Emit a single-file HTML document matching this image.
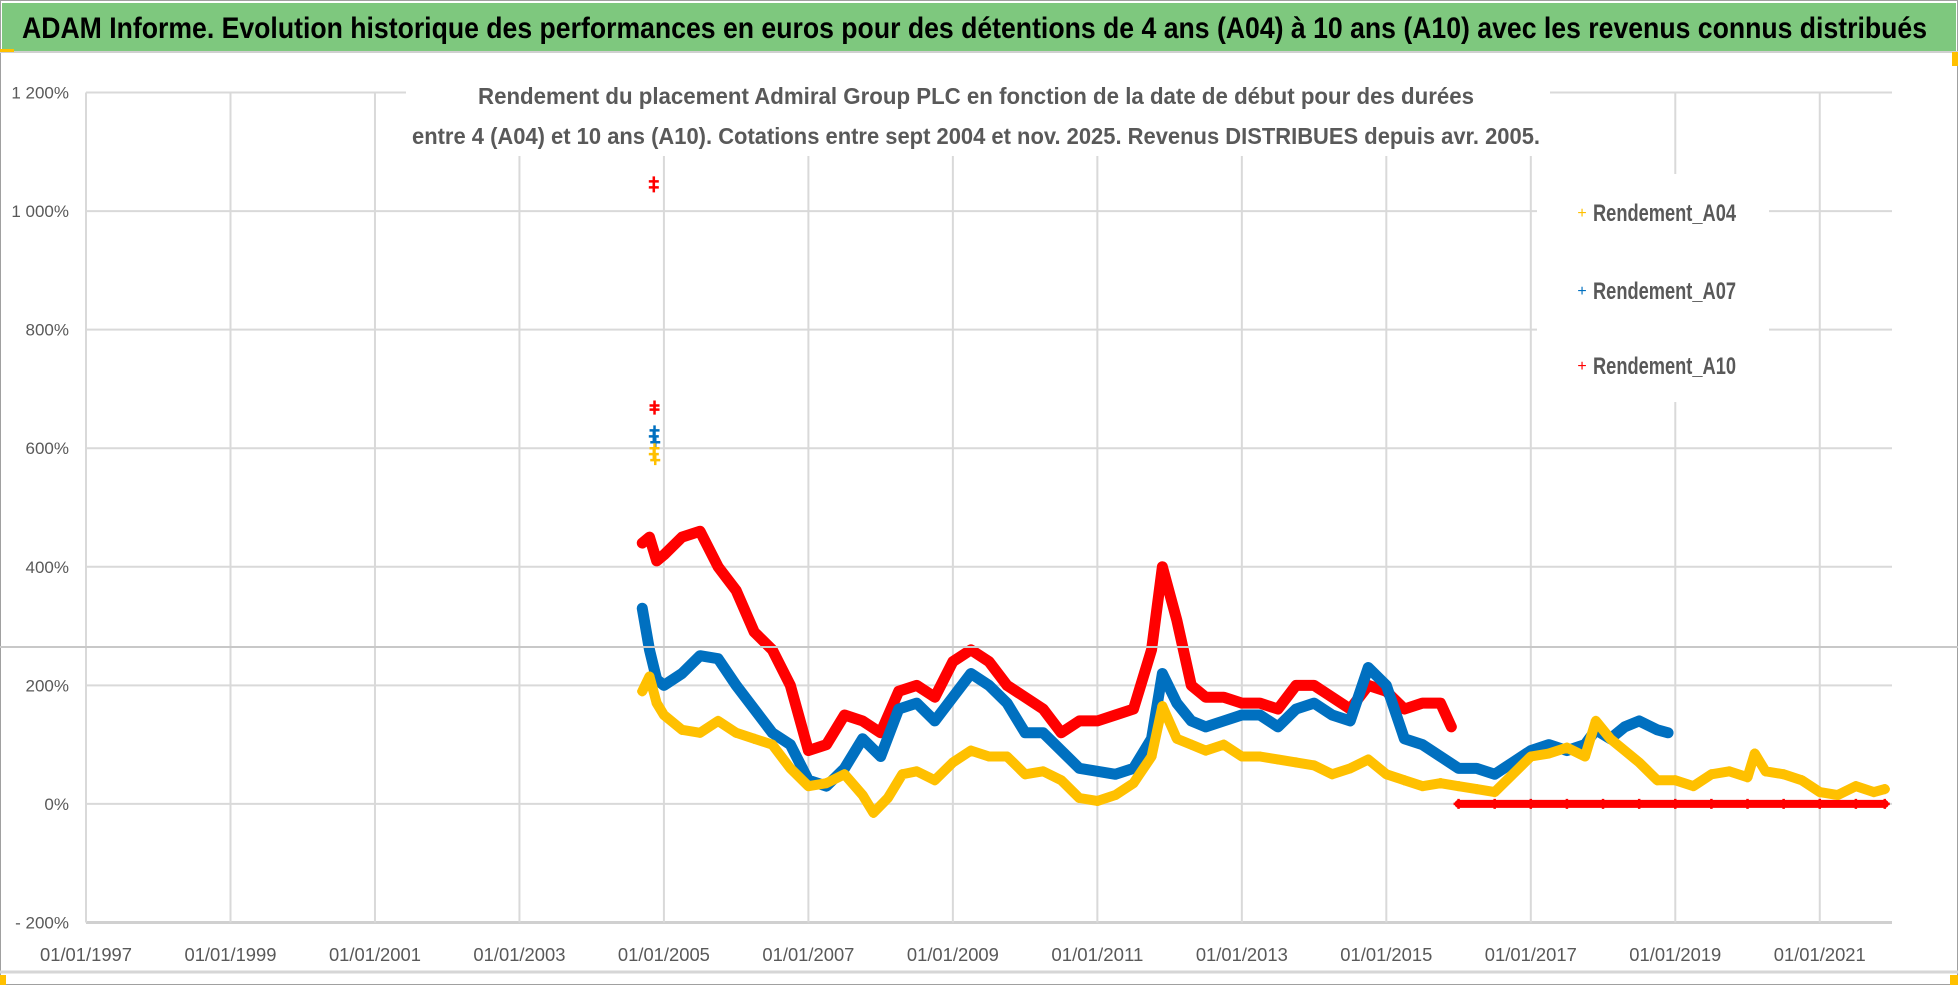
<!DOCTYPE html>
<html><head><meta charset="utf-8"><style>
html,body{margin:0;padding:0;background:#fff;}
svg{display:block;font-family:"Liberation Sans",sans-serif;}
</style></head><body>
<svg id="chart" width="1958" height="985" viewBox="0 0 1958 985" xmlns="http://www.w3.org/2000/svg">
<rect x="0.5" y="0.5" width="1957" height="984" fill="#fff" stroke="#a0a0a0"/>
<rect x="2" y="3" width="1954" height="48" fill="#7ec87e"/>
<line x1="0" y1="52" x2="1958" y2="52" stroke="#d0d0d0" stroke-width="2"/>
<text x="22" y="38" font-size="30" font-weight="bold" fill="#000" textLength="1905" lengthAdjust="spacingAndGlyphs">ADAM Informe. Evolution historique des performances en euros pour des détentions de 4 ans (A04) à 10 ans (A10) avec les revenus connus distribués</text>
<g id="grid"></g>
<rect x="406" y="58" width="1144" height="98" fill="#fff"/>
<text x="976" y="104" font-size="23" font-weight="bold" fill="#595959" text-anchor="middle" textLength="996" lengthAdjust="spacingAndGlyphs">Rendement du placement Admiral Group PLC en fonction de la date de début pour des durées</text>
<text x="976" y="144" font-size="23" font-weight="bold" fill="#595959" text-anchor="middle" textLength="1128" lengthAdjust="spacingAndGlyphs">entre 4 (A04) et 10 ans (A10). Cotations entre sept 2004 et nov. 2025. Revenus DISTRIBUES depuis avr. 2005.</text>
<rect x="1537" y="174" width="232" height="228" fill="#fff"/>
<g>
<g><text x="1582" y="218" font-size="16" fill="#ffc000" text-anchor="middle">+</text><text x="1593" y="221" font-size="24" font-weight="bold" fill="#595959" textLength="143" lengthAdjust="spacingAndGlyphs">Rendement_A04</text></g>
<g><text x="1582" y="296" font-size="16" fill="#0070c0" text-anchor="middle">+</text><text x="1593" y="299" font-size="24" font-weight="bold" fill="#595959" textLength="143" lengthAdjust="spacingAndGlyphs">Rendement_A07</text></g>
<g><text x="1582" y="371" font-size="16" fill="#ff0000" text-anchor="middle">+</text><text x="1593" y="374" font-size="24" font-weight="bold" fill="#595959" textLength="143" lengthAdjust="spacingAndGlyphs">Rendement_A10</text></g>
</g>
<g id="series"></g>
<line x1="0" y1="647" x2="1958" y2="647" stroke="#c8c8c8" stroke-width="2"/>
<line x1="0" y1="972" x2="1958" y2="972" stroke="#d6d6d6" stroke-width="3"/>
<rect x="0" y="975" width="6" height="10" fill="#ffc000"/>
<rect x="1950" y="975" width="8" height="10" fill="#ffc000"/>
<rect x="1952" y="52" width="6" height="14" fill="#ffc000"/>
<rect x="0" y="49" width="14" height="3" fill="#ffc000"/>
</svg>
<script>
const yTicks = [1200,1000,800,600,400,200,0,-200];
const yTickLabels = ["1 200%","1 000%","800%","600%","400%","200%","0%","- 200%"];
const xTicks = [1997,1999,2001,2003,2005,2007,2009,2011,2013,2015,2017,2019,2021];
const xTickLabels = ["01/01/1997","01/01/1999","01/01/2001","01/01/2003","01/01/2005","01/01/2007","01/01/2009","01/01/2011","01/01/2013","01/01/2015","01/01/2017","01/01/2019","01/01/2021"];

const a04Dates = [2004.7,2004.8,2004.9,2005.0,2005.25,2005.5,2005.75,2006.0,2006.25,2006.5,2006.75,2007.0,2007.25,2007.5,2007.75,2007.9,2008.1,2008.3,2008.5,2008.75,2009.0,2009.25,2009.5,2009.75,2010.0,2010.25,2010.5,2010.75,2011.0,2011.25,2011.5,2011.75,2011.9,2012.1,2012.3,2012.5,2012.75,2013.0,2013.25,2013.5,2013.75,2014.0,2014.25,2014.5,2014.75,2015.0,2015.25,2015.5,2015.75,2016.0,2016.25,2016.5,2016.75,2017.0,2017.25,2017.5,2017.75,2017.9,2018.1,2018.3,2018.5,2018.75,2019.0,2019.25,2019.5,2019.75,2020.0,2020.1,2020.25,2020.5,2020.75,2021.0,2021.25,2021.5,2021.75,2021.9];
const a04Values = [190,215,170,150,125,120,140,120,110,100,60,30,35,50,15,-15,10,50,55,40,70,90,80,80,50,55,40,10,5,15,35,80,165,110,100,90,100,80,80,75,70,65,50,60,75,50,40,30,35,30,25,20,50,80,85,95,80,140,110,90,70,40,40,30,50,55,45,85,55,50,40,20,15,30,20,25];
const a04SpikeDates = [2004.86,2004.87,2004.88];
const a04SpikeValues = [590,600,580];

const a07Dates = [2004.7,2004.8,2004.9,2005.0,2005.25,2005.5,2005.75,2006.0,2006.25,2006.5,2006.75,2007.0,2007.25,2007.5,2007.75,2008.0,2008.25,2008.5,2008.75,2009.0,2009.25,2009.5,2009.75,2010.0,2010.25,2010.5,2010.75,2011.0,2011.25,2011.5,2011.75,2011.9,2012.1,2012.3,2012.5,2012.75,2013.0,2013.25,2013.5,2013.75,2014.0,2014.25,2014.5,2014.75,2015.0,2015.25,2015.5,2015.75,2016.0,2016.25,2016.5,2016.75,2017.0,2017.25,2017.5,2017.75,2017.9,2018.1,2018.3,2018.5,2018.75,2018.9];
const a07Values = [330,260,210,200,220,250,245,200,160,120,100,40,30,60,110,80,160,170,140,180,220,200,170,120,120,90,60,55,50,60,110,220,170,140,130,140,150,150,130,160,170,150,140,230,200,110,100,80,60,60,50,70,90,100,90,100,125,110,130,140,125,120];
const a07SpikeDates = [2004.86,2004.87,2004.88];
const a07SpikeValues = [620,630,610];

const a10Dates = [2004.7,2004.8,2004.9,2005.0,2005.25,2005.5,2005.75,2006.0,2006.25,2006.5,2006.75,2007.0,2007.25,2007.5,2007.75,2008.0,2008.25,2008.5,2008.75,2009.0,2009.25,2009.5,2009.75,2010.0,2010.25,2010.5,2010.75,2011.0,2011.25,2011.5,2011.75,2011.9,2012.1,2012.3,2012.5,2012.75,2013.0,2013.25,2013.5,2013.75,2014.0,2014.25,2014.5,2014.75,2015.0,2015.25,2015.5,2015.75,2015.9];
const a10Values = [440,450,410,420,450,460,400,360,290,260,200,90,100,150,140,120,190,200,180,240,260,240,200,180,160,120,140,140,150,160,260,400,310,200,180,180,170,170,160,200,200,180,160,200,190,160,170,170,130];
const a10SpikeDates = [2004.86,2004.86,2004.87,2004.87];
const a10SpikeValues = [1050,1040,672,665];
const a10ZeroDates = [2016.0,2016.5,2017.0,2017.5,2018.0,2018.5,2019.0,2019.5,2020.0,2020.5,2021.0,2021.5,2021.9];
const a10ZeroValues = [0,0,0,0,0,0,0,0,0,0,0,0,0];

const X0=86, X1=1892, YR0=1997, YR1=2022;
function xs(yr){ return X0 + (yr-YR0)*(X1-X0)/(YR1-YR0); }
const YT=92.5, YB=922.5, VMAX=1200, VMIN=-200;
function ys(v){ return YT + (VMAX-v)*(YB-YT)/(VMAX-VMIN); }
const NS="http://www.w3.org/2000/svg";
const grid=document.getElementById('grid');
const series=document.getElementById('series');
const svg=document.getElementById('chart');

yTicks.forEach((t,i)=>{
  const l=document.createElementNS(NS,'line');
  l.setAttribute('x1',X0);l.setAttribute('x2',X1);l.setAttribute('y1',ys(t));l.setAttribute('y2',ys(t));
  l.setAttribute('stroke', t===-200?'#d0d0d0':'#d9d9d9');l.setAttribute('stroke-width', t===-200?3:2);
  
  
  grid.appendChild(l);
  const tx=document.createElementNS(NS,'text');
  tx.setAttribute('x',69);tx.setAttribute('y',ys(t)+6);tx.setAttribute('text-anchor','end');
  tx.setAttribute('font-size','17');tx.setAttribute('fill','#595959');
  tx.textContent=yTickLabels[i];
  
  
  svg.appendChild(tx);
});
xTicks.forEach((t,i)=>{
  const l=document.createElementNS(NS,'line');
  l.setAttribute('x1',xs(t));l.setAttribute('x2',xs(t));l.setAttribute('y1',YT);l.setAttribute('y2',YB);
  l.setAttribute('stroke','#d9d9d9');l.setAttribute('stroke-width',2);
  
  
  grid.appendChild(l);
  const tx=document.createElementNS(NS,'text');
  tx.setAttribute('x',xs(t));tx.setAttribute('y',961);tx.setAttribute('text-anchor','middle');
  tx.setAttribute('font-size','18');tx.setAttribute('fill','#595959');
  tx.setAttribute('textLength','92');tx.setAttribute('lengthAdjust','spacingAndGlyphs');
  tx.textContent=xTickLabels[i];
  
  
  svg.appendChild(tx);
});

function addMarkers(g, dates, values, color, name){
  dates.forEach((d,i)=>{
    const p=document.createElementNS(NS,'path');
    const x=xs(d), y=ys(values[i]);
    p.setAttribute('d',`M${x-5},${y}H${x+5}M${x},${y-5}V${y+5}`);
    p.setAttribute('stroke',color);p.setAttribute('stroke-width',2.5);
    
    
    g.appendChild(p);
  });
}
function drawSeries(dates, values, color, name, band){
  const g=document.createElementNS(NS,'g');
  
  
  const pl=document.createElementNS(NS,'polyline');
  pl.setAttribute('points',dates.map((d,i)=>xs(d)+','+ys(values[i])).join(' '));
  pl.setAttribute('fill','none');pl.setAttribute('stroke',color);pl.setAttribute('stroke-width',band);
  pl.setAttribute('stroke-linejoin','round');pl.setAttribute('stroke-linecap','round');
  
  
  g.appendChild(pl);
  addMarkers(g, dates, values, color, name);
  series.appendChild(g);
  return g;
}
function drawSpikes(dates, values, color, name){
  const g=document.createElementNS(NS,'g');
  
  
  addMarkers(g, dates, values, color, name);
  series.appendChild(g);
}
drawSeries(a10Dates,a10Values,'#ff0000','series-a10',11);
drawSeries(a10ZeroDates,a10ZeroValues,'#ff0000','series-a10-zero',8);
drawSpikes(a10SpikeDates,a10SpikeValues,'#ff0000','series-a10-spike');
drawSeries(a07Dates,a07Values,'#0070c0','series-a07',11);
drawSpikes(a07SpikeDates,a07SpikeValues,'#0070c0','series-a07-spike');
drawSeries(a04Dates,a04Values,'#ffc000','series-a04',10);
drawSpikes(a04SpikeDates,a04SpikeValues,'#ffc000','series-a04-spike');
</script>
</body></html>
